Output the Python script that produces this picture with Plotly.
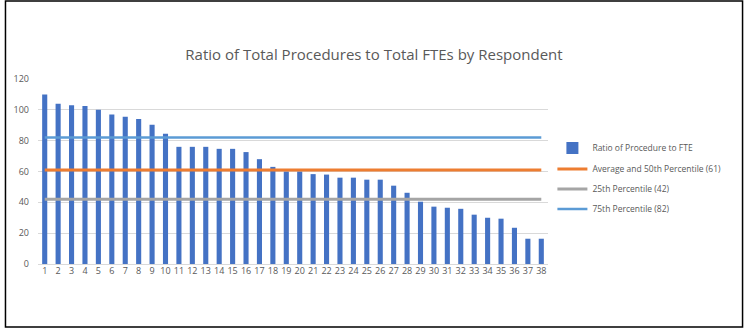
import plotly.graph_objects as go

respondents = list(range(1, 39))
ratio = [110, 104, 103, 102.5, 100, 97, 95.5, 94, 90.3, 84.5, 76, 76, 76, 74.7, 74.7,
         72.6, 68, 63, 60, 60, 58.3, 58, 56, 56, 54.7, 54.7, 50.8, 46.2, 40.4, 37.2,
         36.5, 35.8, 32, 30, 29.4, 23.5, 16.4, 16.4]
p50_value = 61
p25_value = 42
p75_value = 82
p50 = [p50_value] * len(respondents)
p25 = [p25_value] * len(respondents)
p75 = [p75_value] * len(respondents)
yticks = [0, 20, 40, 60, 80, 100, 120]

font = "Open Sans"
gray_text = "#595959"

fig = go.Figure()
fig.add_trace(go.Bar(x=respondents, y=ratio, name="Ratio of Procedure to FTE",
                     marker=dict(color="#4472C4", line=dict(width=0)), legend="legend",
                     showlegend=True))
fig.add_trace(go.Scatter(x=respondents, y=p50, mode="lines", name="Average and 50th Percentile (61)",
                         line=dict(color="#ED7D31", width=3), legend="legend2", showlegend=True))
fig.add_trace(go.Scatter(x=respondents, y=p25, mode="lines", name="25th Percentile (42)",
                         line=dict(color="#A5A5A5", width=3), legend="legend3", showlegend=True))
fig.add_trace(go.Scatter(x=respondents, y=p75, mode="lines", name="75th Percentile (82)",
                         line=dict(color="#5B9BD5", width=2.5), legend="legend4", showlegend=True))

L = 38; R = 746 - 547.6; T = 79; B = 334 - 264
W = 746 - L - R; H = 334 - T - B

def px_x(px):
    return (px - L) / W

def px_y(py):
    return (334 - B - py) / H

legend_common = dict(font=dict(family=font, size=8.5, color=gray_text), bgcolor="rgba(0,0,0,0)",
                     xanchor="left", yanchor="middle", itemwidth=30, visible=True)
fig.update_layout(
    width=746, height=334,
    margin=dict(l=L, r=R, t=T, b=B),
    paper_bgcolor="white", plot_bgcolor="white",
    showlegend=True,
    bargap=0.62,
    title=dict(text="Ratio of Total Procedures to Total FTEs by Respondent",
               font=dict(family=font, size=15, color=gray_text),
               x=374 / 746, xanchor="center", y=1 - 55 / 334, yanchor="middle"),
    xaxis=dict(range=[0.5, 38.5], tickvals=respondents, ticktext=[str(r) for r in respondents],
               showgrid=False, zeroline=False, showline=False, ticks="",
               tickfont=dict(family=font, size=9, color=gray_text), tickangle=0),
    yaxis=dict(range=[0, 120], tickvals=yticks, showgrid=True, gridcolor="#D9D9D9", gridwidth=1,
               zeroline=True, zerolinecolor="#D9D9D9", zerolinewidth=1, showline=False, ticks="",
               tickfont=dict(family=font, size=9, color=gray_text), ticklabelstandoff=8),
    legend=dict(x=px_x(552), y=px_y(148), **legend_common),
    legend2=dict(x=px_x(552), y=px_y(169), **legend_common),
    legend3=dict(x=px_x(552), y=px_y(189), **legend_common),
    legend4=dict(x=px_x(552), y=px_y(209), **legend_common),
    shapes=[dict(type="rect", xref="paper", yref="paper",
                 x0=px_x(5.5), x1=px_x(742), y0=px_y(327), y1=px_y(1),
                 line=dict(color="black", width=1.5), fillcolor="rgba(0,0,0,0)", layer="below")],
)

fig.write_html("out.html")
